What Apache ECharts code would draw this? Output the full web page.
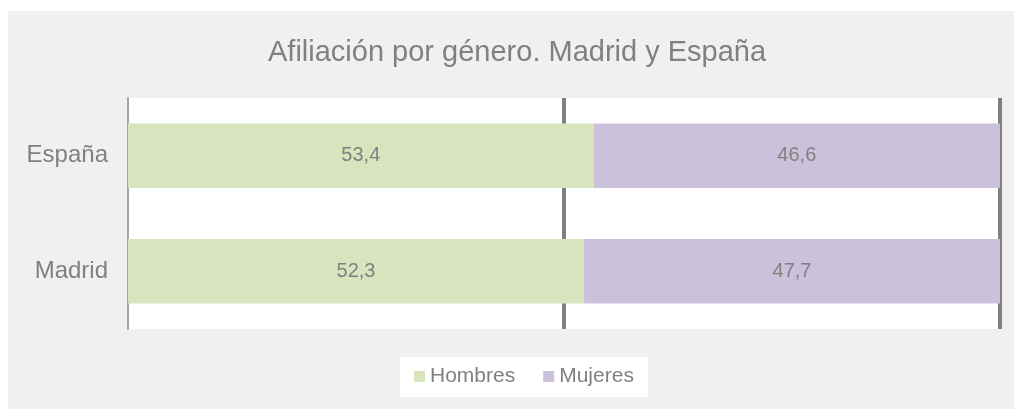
<!DOCTYPE html>
<html>
<head>
<meta charset="utf-8">
<title>Afiliación por género</title>
<script src="https://cdn.jsdelivr.net/npm/echarts@6/dist/echarts.min.js"></script>
<style>
  html, body { margin: 0; padding: 0; background: #ffffff; }
  #panel { position: absolute; left: 8px; top: 11px; width: 1006px; height: 398px; background: #f0f0f0; }
  #chart { position: absolute; left: 0; top: 0; width: 1014px; height: 409px; }
</style>
</head>
<body>
<div id="panel"></div>
<div id="chart"></div>
<script>
// datos
const regiones = ['España', 'Madrid'];
const hombres = [53.4, 52.3];
const mujeres = [46.6, 47.7];
const seriesNames = ['Hombres', 'Mujeres'];

const gris = '#808080';
const fuente = "'Liberation Sans', Arial, sans-serif";

const chart = echarts.init(document.getElementById('chart'));

const etiqueta = {
  show: true,
  position: 'inside',
  color: gris,
  fontSize: 20,
  fontFamily: fuente,
  formatter: p => p.value.toFixed(1).replace('.', ',')
};

const option = {
  backgroundColor: 'transparent',
  animation: false,
  title: {
    text: 'Afiliación por género. Madrid y España',
    left: 268,
    top: 38,
    padding: 0,
    textStyle: { color: gris, fontSize: 29, fontWeight: 'normal', fontFamily: fuente }
  },
  legend: {
    data: seriesNames,
    left: 400,
    top: 357,
    backgroundColor: '#ffffff',
    padding: [9, 14, 10, 14],
    icon: 'rect',
    itemWidth: 11,
    itemHeight: 11,
    itemGap: 28,
    textStyle: { color: gris, fontSize: 21, fontFamily: fuente }
  },
  grid: {
    left: 128,
    right: 14,
    top: 98,
    bottom: 80,
    show: true,
    backgroundColor: '#ffffff',
    borderWidth: 0
  },
  xAxis: {
    type: 'value',
    min: 0,
    max: 100,
    interval: 50,
    axisLine: { show: false },
    axisTick: { show: false },
    axisLabel: { show: false },
    splitLine: { show: true, showMinLine: false, lineStyle: { color: gris, width: 4 } }
  },
  yAxis: {
    type: 'category',
    data: regiones,
    inverse: true,
    axisLine: { show: true, lineStyle: { color: '#a6a6a6', width: 2 } },
    axisTick: { show: false },
    axisLabel: { color: gris, fontSize: 24, fontFamily: fuente, margin: 20 }
  },
  series: [
    {
      name: seriesNames[0],
      type: 'bar',
      stack: 'total',
      data: hombres,
      barCategoryGap: '44%',
      itemStyle: { color: '#d7e4bd' },
      label: etiqueta
    },
    {
      name: seriesNames[1],
      type: 'bar',
      stack: 'total',
      data: mujeres,
      barCategoryGap: '44%',
      itemStyle: { color: '#ccc1da' },
      label: etiqueta
    }
  ]
};

chart.setOption(option);
</script>
</body>
</html>
